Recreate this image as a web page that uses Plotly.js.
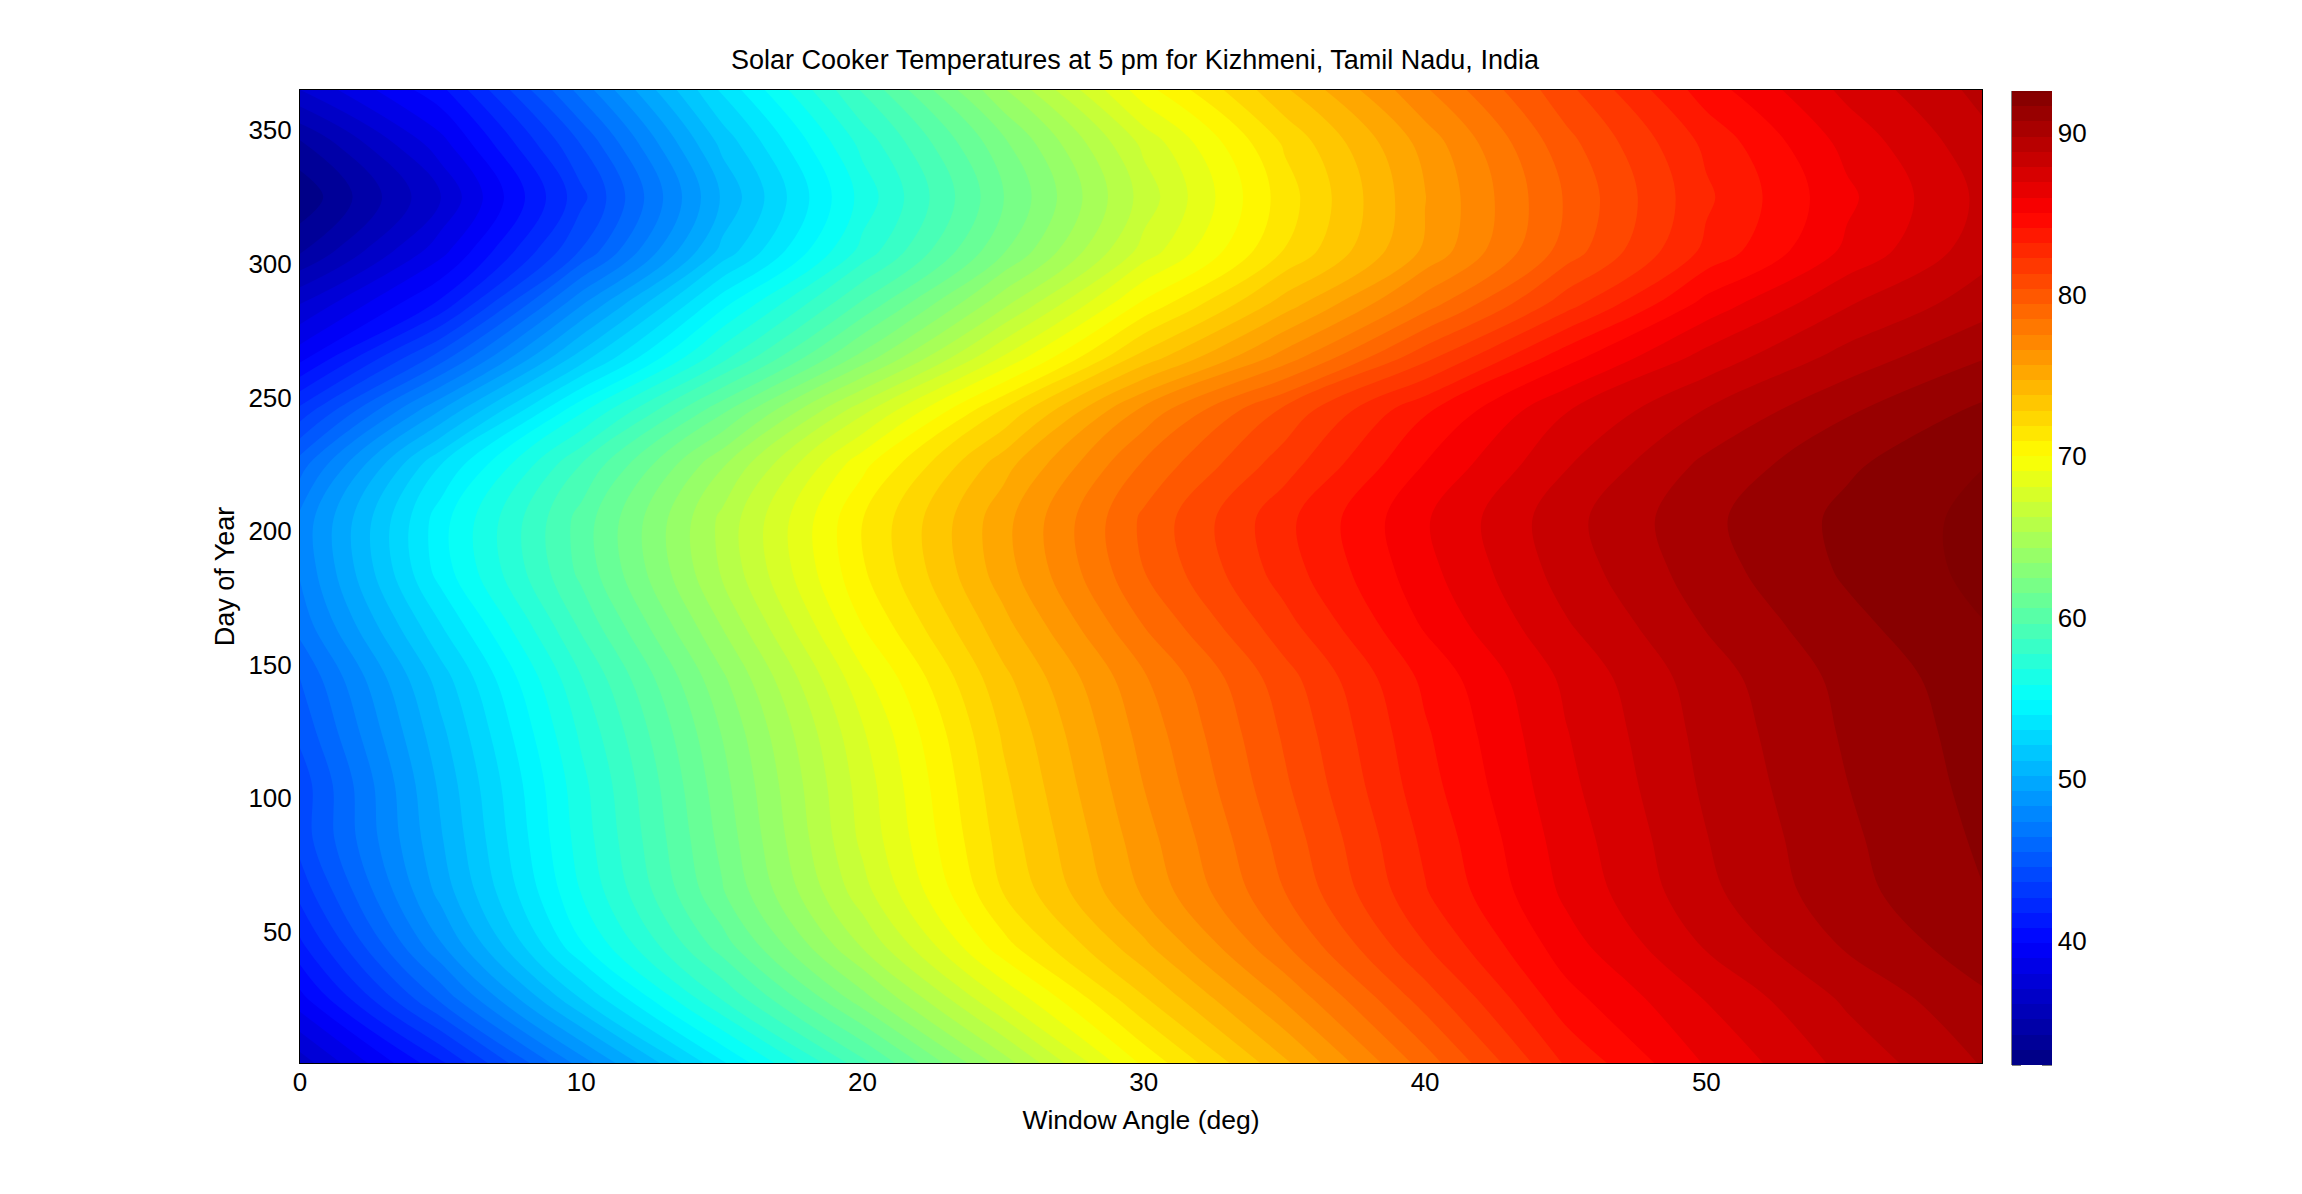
<!DOCTYPE html>
<html>
<head>
<meta charset="utf-8">
<script src="https://cdn.plot.ly/plotly-3.0.1.min.js"></script>
<style>html,body{margin:0;padding:0;background:#fff}#chart{width:2302px;height:1194px}</style>
</head>
<body>
<div id="chart"></div>
<script>
const angles = [0,5,10,15,20,25,30,35,40,45,50,55,60];
const days = [1,25,45,65,85,105,125,145,165,185,205,225,245,265,285,305,325,345,365];
const day001 = [36.5,41.5,47.8,53.8,59.3,64.8,70.2,74.5,78.9,83.3,86.1,88.2,89.9];
const day025 = [39.5,45.7,52.1,57.8,63,68.2,72.7,76.7,80.8,84.7,87,89,90.6];
const day045 = [41.5,48.2,54.8,60.1,65.4,70.6,74.5,78.4,82.2,85.6,88,89.9,91.3];
const day065 = [43,49.6,55.9,61.4,66.8,71.9,75.8,79.4,83.1,86.2,88.6,90.4,91.7];
const day085 = [44,50.1,56.3,61.8,67.4,72.3,76.2,79.8,83.4,86.45,88.8,90.55,91.85];
const day105 = [44,50.4,56.5,62.1,67.6,72.6,76.6,80.2,83.75,86.7,89,90.7,92];
const day125 = [44.8,50.9,57,62.5,68,72.95,76.95,80.5,84,86.9,89.15,90.85,92.1];
const day145 = [45.5,51.6,57.7,63.2,68.8,73.5,77.4,80.9,84.35,87.15,89.35,91,92.25];
const day165 = [46.8,53,58.9,64.4,70,74.4,78.5,81.9,85.2,87.8,89.85,91.4,92.6];
const day185 = [47.5,54.4,59.9,65.4,70.8,75.2,79.4,82.7,85.7,88.3,90.3,91.8,92.9];
const day205 = [47.6,54.5,60,65.5,70.9,75.3,79.6,82.9,85.9,88.5,90.5,91.9,92.9];
const day225 = [46,53,58.7,64.2,69.7,74.3,78.6,81.8,85.1,87.8,90,91.5,92.6];
const day245 = [43,49.3,55.7,61.3,66.9,72,76.9,80.6,84,86.9,88.9,90.6,91.9];
const day265 = [39.5,45,51.6,57.4,62.8,68.2,73.2,77,81,84.7,87.3,89.2,90.7];
const day285 = [37,41,48.2,54.6,59.8,65,70.2,74.2,78,81.8,85.4,87.8,89.4];
const day305 = [34,38.5,44.6,51.4,57.1,62.3,67.5,71.9,75.8,79.8,83.4,86.2,88.5];
const day325 = [32.5,37,43.3,50.3,56.2,61.4,66.6,71.4,75.6,79.5,83,85.8,88.2];
const day345 = [34,38.5,44.6,51.4,57.1,62.2,67.4,72,76,80,83.4,86.3,88.6];
const day365 = [37,40.5,46.8,53.2,58.8,64.2,69.6,73.6,77.4,81,84.6,87.2,89.2];
const temperatures = [day001,day025,day045,day065,day085,day105,day125,day145,day165,day185,day205,day225,day245,day265,day285,day305,day325,day345,day365];

const tempMin = 32.3, tempMax = 92.6, levels = 64;
const xTicks = [0,10,20,30,40,50];
const yTicks = [50,100,150,200,250,300,350];
const barTicks = [40,50,60,70,80,90];
const jet = [[0,'#000080'],[0.125,'#0000ff'],[0.375,'#00ffff'],[0.625,'#ffff00'],[0.875,'#ff0000'],[1,'#800000']];
const fontFamily = '"Liberation Sans", Arial, sans-serif';

const plotW = 1682, plotH = 973;
const barTop = 91, barBottom = 1065, plotTop = 90;
const toPaperY = v => {
  const py = barBottom - (v - tempMin) / (tempMax - tempMin) * (barBottom - barTop);
  return 1 - (py - plotTop) / plotH;
};
const barL = 1 + 30 / plotW, barR = barL + 40 / plotW;
const shapes = [{type:'line',xref:'paper',yref:'paper',x0:barL,x1:barL,y0:toPaperY(tempMin),y1:toPaperY(tempMax),line:{color:'#000',width:1}}];
barTicks.concat([tempMin]).forEach(t => {
  shapes.push({type:'line',xref:'paper',yref:'paper',x0:barL,x1:barL+9/plotW,y0:toPaperY(t),y1:toPaperY(t),line:{color:'#000',width:1}});
  shapes.push({type:'line',xref:'paper',yref:'paper',x0:barR-10/plotW,x1:barR,y0:toPaperY(t),y1:toPaperY(t),line:{color:'#000',width:1}});
});

Plotly.newPlot('chart', [{
  type:'contour', x:angles, y:days, z:temperatures,
  zmin:tempMin, zmax:tempMax, autocontour:false,
  contours:{coloring:'fill', start:tempMin, end:tempMax, size:(tempMax-tempMin)/levels, showlines:false},
  line:{width:0, smoothing:1},
  colorscale:jet,
  colorbar:{
    x:barL, xanchor:'left', xpad:0, ypad:0,
    y:toPaperY(tempMax), yanchor:'top',
    lenmode:'pixels', len:barBottom-barTop, thicknessmode:'pixels', thickness:40,
    outlinewidth:0, ticks:'', tickmode:'array', tickvals:barTicks, ticktext:barTicks.map(String),
    tickfont:{family:fontFamily,size:26,color:'#000'}, ticklabelposition:'outside'
  },
  hovertemplate:'%{x}°, day %{y}: %{z}<extra></extra>'
}], {
  width:2302, height:1194,
  margin:{l:300,r:320,t:90,b:131,pad:0},
  paper_bgcolor:'#fff', plot_bgcolor:'#fff',
  font:{family:fontFamily,size:26,color:'#000'},
  title:{text:'Solar Cooker Temperatures at 5 pm for Kizhmeni, Tamil Nadu, India',font:{family:fontFamily,size:27,color:'#000'},x:1135/2302,xanchor:'center',y:1-60/1194,yanchor:'middle'},
  xaxis:{range:[0,59.8],tickmode:'array',tickvals:xTicks,ticks:'',showgrid:false,zeroline:false,showline:true,mirror:true,linecolor:'#000',linewidth:1,ticklabelstandoff:-4,
    tickfont:{family:fontFamily,size:26,color:'#000'},title:{text:'Window Angle (deg)',font:{family:fontFamily,size:26.5,color:'#000'},standoff:14}},
  yaxis:{range:[1,365],tickmode:'array',tickvals:yTicks,ticks:'',showgrid:false,zeroline:false,showline:true,mirror:true,linecolor:'#000',linewidth:1,ticklabelstandoff:2,
    tickfont:{family:fontFamily,size:26,color:'#000'},title:{text:'Day of Year',font:{family:fontFamily,size:27,color:'#000'},standoff:5}},
  shapes:shapes
}, {displayModeBar:false});
</script>
</body>
</html>
